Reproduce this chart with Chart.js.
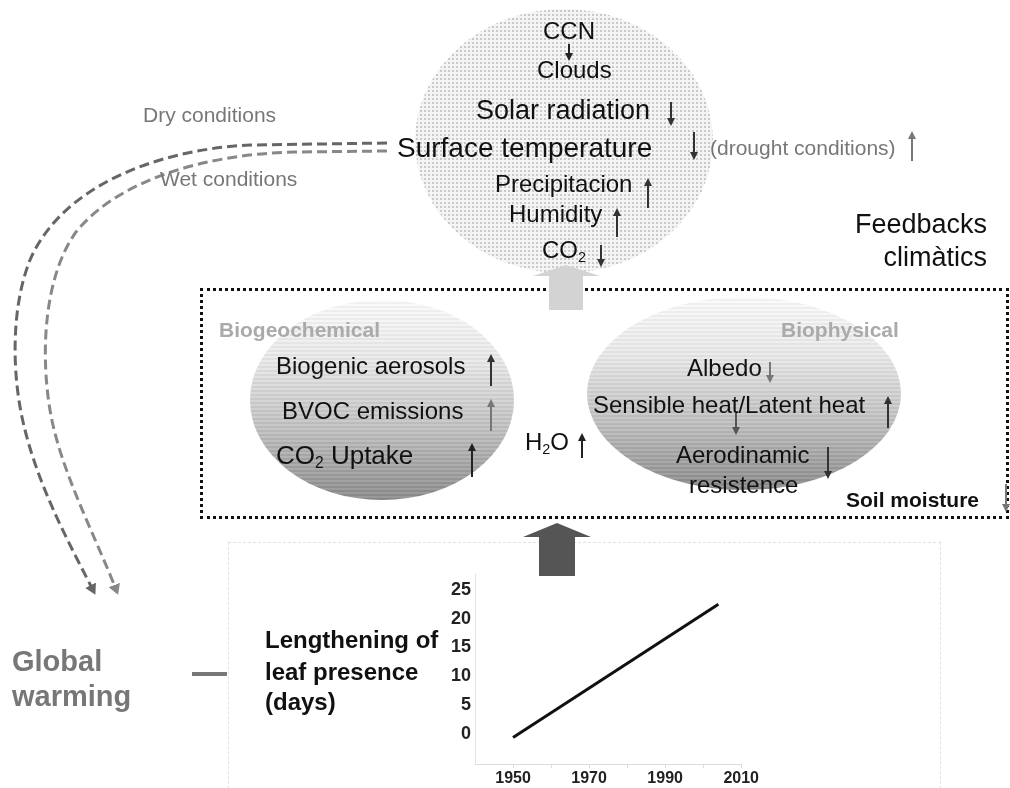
<!DOCTYPE html>
<html>
<head>
<meta charset="utf-8">
<script src="https://cdn.jsdelivr.net/npm/chart.js@4.4.0/dist/chart.umd.min.js"></script>
<style>
  html, body { margin: 0; padding: 0; background: #fff; }
  body { width: 1010px; height: 788px; position: relative; overflow: hidden;
         font-family: Arial, "Liberation Sans", sans-serif; color: #111; }
  .t { position: absolute; white-space: nowrap; line-height: 1; }
  .b { font-weight: bold; }
  .grey { color: #777; }
  .pale { color: #aaa; }
  sub { font-size: 0.6em; vertical-align: -0.25em; line-height: 0; }
  #cloud {
    position: absolute; left: 415px; top: 9px; width: 298px; height: 264px; border-radius: 50%;
    background-color: #f4f4f4;
    background-image: radial-gradient(circle, #c9c9c9 1px, transparent 1.5px);
    background-size: 4px 4px;
  }
  .egg {
    position: absolute; border-radius: 50%;
    background:
      repeating-linear-gradient(to bottom, rgba(255,255,255,0.10) 0 2px, rgba(0,0,0,0.04) 2px 4px),
      linear-gradient(to bottom, #fbfbfb 0%, #e9e9e9 30%, #bfbfbf 65%, #8a8a8a 100%);
  }
  #box { position: absolute; left: 200px; top: 288px; width: 803px; height: 225px;
         border: 3px dotted #111; }
  #frame { position: absolute; left: 228px; top: 542px; width: 711px; height: 300px;
           border: 1px dashed #e2e2e2; }
  #overlay { position: absolute; left: 0; top: 0; }
  #chartWrap { position: absolute; left: 420px; top: 560px; width: 340px; height: 228px; }
</style>
</head>
<body>
<div id="cloud"></div>
<div id="frame"></div>
<div id="box"></div>
<div class="egg" style="left:250px; top:300px; width:264px; height:200px;"></div>
<div class="egg" style="left:587px; top:297px; width:314px; height:193px;"></div>

<div id="chartWrap"><canvas id="leafChart"></canvas></div>

<svg id="overlay" width="1010" height="788">
  <defs>
    <marker id="hDry" markerWidth="4" markerHeight="4" refX="2.5" refY="2" orient="auto" markerUnits="strokeWidth">
      <path d="M0,0 L3.5,2 L0,4 z" fill="#666"/>
    </marker>
    <marker id="hWet" markerWidth="4" markerHeight="4" refX="2.5" refY="2" orient="auto" markerUnits="strokeWidth">
      <path d="M0,0 L3.5,2 L0,4 z" fill="#888"/>
    </marker>
  </defs>
  <!-- dashed feedback curves -->
  <path d="M387,143 L250,145 C150,150 60,190 30,260 C10,310 12,380 25,430 C40,490 70,545 94,592"
        fill="none" stroke="#666" stroke-width="3" stroke-dasharray="10 5" marker-end="url(#hDry)"/>
  <path d="M387,151 L295,152 C205,154 118,180 76,232 C45,275 40,350 50,410 C60,470 95,535 117,592"
        fill="none" stroke="#888" stroke-width="3" stroke-dasharray="10 5" marker-end="url(#hWet)"/>

  <!-- block arrows -->
  <polygon points="566,265 600,276 583,276 583,310 549,310 549,276 533,276" fill="#d3d3d3"/>
  <polygon points="557,523 591,537 575,537 575,576 539,576 539,537 523,537" fill="#555"/>

  <!-- global warming link -->
  <rect x="192" y="672" width="35" height="4" fill="#777"/>

  <g id="arrows"></g>
</svg>

<!-- top cloud -->
<div class="t" style="left:543px; top:19px; font-size:24px;">CCN</div>
<div class="t" style="left:537px; top:58px; font-size:24px;">Clouds</div>
<div class="t" style="left:476px; top:97px; font-size:27px;">Solar radiation</div>
<div class="t" style="left:397px; top:134px; font-size:28px;">Surface temperature</div>
<div class="t grey" style="left:710px; top:137px; font-size:21px;">(drought conditions)</div>
<div class="t" style="left:495px; top:172px; font-size:24px;">Precipitacion</div>
<div class="t" style="left:509px; top:202px; font-size:24px;">Humidity</div>
<div class="t" style="left:542px; top:238px; font-size:24px;">CO<sub>2</sub></div>

<div class="t" style="left:855px; top:211px; font-size:27px; text-align:right; width:132px;">Feedbacks</div>
<div class="t" style="left:855px; top:244px; font-size:27px; text-align:right; width:132px;">climàtics</div>

<div class="t grey" style="left:143px; top:104px; font-size:21px;">Dry conditions</div>
<div class="t grey" style="left:160px; top:168px; font-size:21px;">Wet conditions</div>

<!-- feedback box -->
<div class="t b pale" style="left:219px; top:319px; font-size:21px;">Biogeochemical</div>
<div class="t b pale" style="left:781px; top:319px; font-size:21px;">Biophysical</div>
<div class="t" style="left:276px; top:354px; font-size:24px;">Biogenic aerosols</div>
<div class="t" style="left:282px; top:399px; font-size:24px;">BVOC emissions</div>
<div class="t" style="left:276px; top:442px; font-size:26px;">CO<sub>2</sub> Uptake</div>
<div class="t" style="left:525px; top:430px; font-size:24px;">H<sub>2</sub>O</div>
<div class="t" style="left:687px; top:356px; font-size:24px;">Albedo</div>
<div class="t" style="left:593px; top:393px; font-size:24px;">Sensible heat/Latent heat</div>
<div class="t" style="left:676px; top:443px; font-size:24px;">Aerodinamic</div>
<div class="t" style="left:689px; top:473px; font-size:24px;">resistence</div>
<div class="t b" style="left:846px; top:489px; font-size:21px;">Soil moisture</div>

<!-- bottom -->
<div class="t b grey" style="left:12px; top:647px; font-size:29px;">Global</div>
<div class="t b grey" style="left:12px; top:682px; font-size:29px;">warming</div>
<div class="t b" style="left:265px; top:628px; font-size:24px;">Lengthening of</div>
<div class="t b" style="left:265px; top:660px; font-size:24px;">leaf presence</div>
<div class="t b" style="left:265px; top:690px; font-size:24px;">(days)</div>

<script>
// Lengthening of leaf presence (days) vs year
const years = [1950, 2004];
const leafDays = [-0.6, 22.5];
const xTickValues = [1950, 1960, 1970, 1980, 1990, 2000, 2010];
const xTickLabels = [1950, 1970, 1990, 2010];
const yTicks = [0, 5, 10, 15, 20, 25];

const fontFamily = 'Arial, "Liberation Sans", sans-serif';

new Chart(document.getElementById('leafChart'), {
  type: 'line',
  data: {
    datasets: [{
      data: years.map((y, i) => ({ x: y, y: leafDays[i] })),
      borderColor: '#111',
      borderWidth: 3,
      pointRadius: 0,
      fill: false,
      tension: 0
    }]
  },
  options: {
    responsive: true,
    maintainAspectRatio: false,
    animation: false,
    layout: { padding: { top: 10, right: 18, left: 0, bottom: 0 } },
    plugins: { legend: { display: false }, tooltip: { enabled: false } },
    scales: {
      x: {
        type: 'linear',
        min: 1940,
        max: 2010,
        afterBuildTicks: s => { s.ticks = xTickValues.map(v => ({ value: v })); },
        afterFit: s => { s.height = 24; },
        border: { color: '#dcdcdc' },
        grid: { drawOnChartArea: false, drawTicks: true, tickLength: 4, color: '#dcdcdc' },
        ticks: {
          color: '#222', font: { family: fontFamily, size: 16, weight: 'bold' },
          padding: 1, maxRotation: 0, autoSkip: false,
          callback: v => xTickLabels.includes(v) ? String(v) : ''
        }
      },
      y: {
        min: -5.2,
        max: 27.6,
        afterBuildTicks: s => { s.ticks = yTicks.map(v => ({ value: v })); },
        afterFit: s => { s.width = 55; },
        border: { color: '#e2e2e2' },
        grid: { drawOnChartArea: false, drawTicks: false },
        ticks: { color: '#222', font: { family: fontFamily, size: 18, weight: 'bold' }, padding: 4 }
      }
    }
  }
});

// small up/down arrows next to labels: [x, yFrom, yTo, colour]
const smallArrows = [
  [569, 44, 61, '#222'],
  [671, 102, 126, '#333'],
  [694, 132, 160, '#333'],
  [912, 161, 131, '#777'],
  [648, 208, 178, '#333'],
  [617, 237, 208, '#333'],
  [601, 245, 267, '#333'],
  [491, 386, 354, '#333'],
  [491, 431, 399, '#777'],
  [472, 477, 443, '#222'],
  [582, 458, 433, '#222'],
  [770, 362, 383, '#777'],
  [888, 428, 396, '#333'],
  [736, 413, 435, '#555'],
  [828, 447, 479, '#333'],
  [1006, 484, 512, '#777']
];
const g = document.getElementById('arrows');
const NS = 'http://www.w3.org/2000/svg';
smallArrows.forEach(([x, y1, y2, c]) => {
  const dir = y2 > y1 ? 1 : -1;
  const line = document.createElementNS(NS, 'line');
  line.setAttribute('x1', x); line.setAttribute('x2', x);
  line.setAttribute('y1', y1); line.setAttribute('y2', y2 - dir * 6);
  line.setAttribute('stroke', c); line.setAttribute('stroke-width', 2);
  g.appendChild(line);
  const head = document.createElementNS(NS, 'polygon');
  head.setAttribute('points', `${x - 4},${y2 - dir * 8} ${x + 4},${y2 - dir * 8} ${x},${y2}`);
  head.setAttribute('fill', c);
  g.appendChild(head);
});
</script>
</body>
</html>
